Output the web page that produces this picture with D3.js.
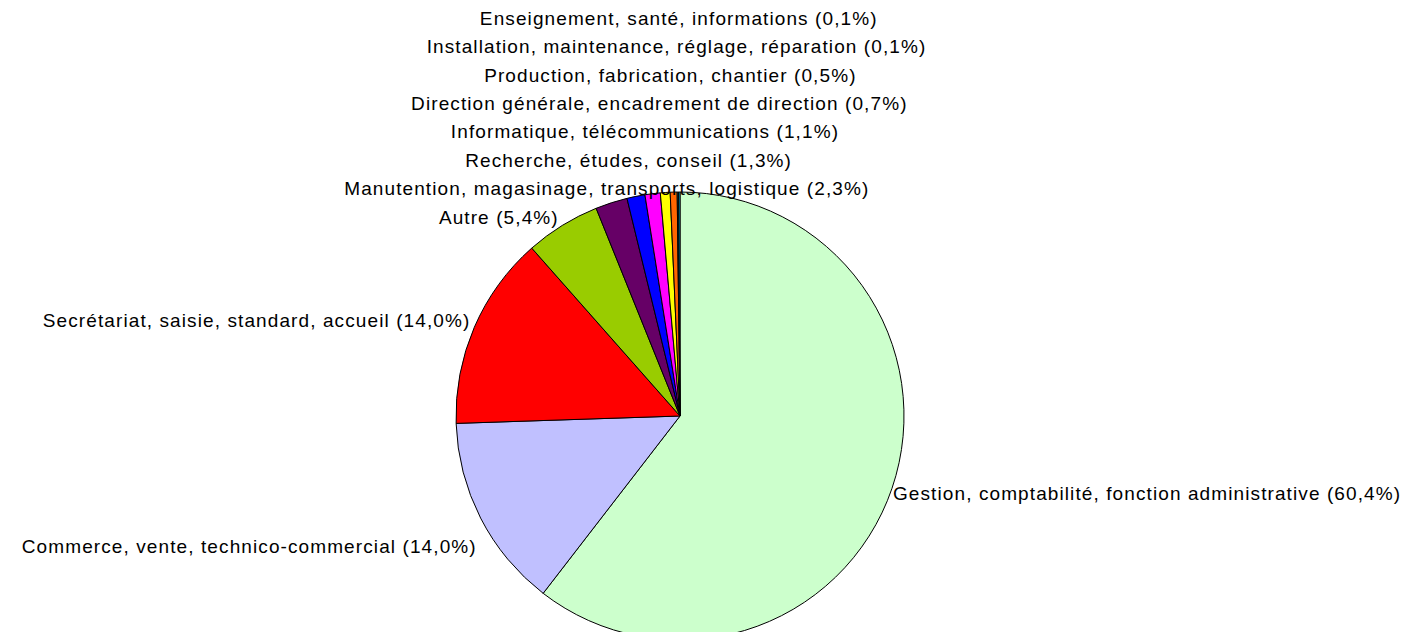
<!DOCTYPE html>
<html>
<head>
<meta charset="utf-8">
<script src="https://cdn.jsdelivr.net/npm/d3@7"></script>
<style>
  html, body { margin: 0; padding: 0; background: #fff; }
  svg { display: block; }
  text { font-family: "Liberation Sans", Arial, sans-serif; fill: #000; }
</style>
</head>
<body>
<div id="chart"></div>
<script>
// ─── DATA ───
const categories = [
  'Gestion, comptabilité, fonction administrative',
  'Commerce, vente, technico-commercial',
  'Secrétariat, saisie, standard, accueil',
  'Autre',
  'Manutention, magasinage, transports, logistique',
  'Recherche, études, conseil',
  'Informatique, télécommunications',
  'Direction générale, encadrement de direction',
  'Production, fabrication, chantier',
  'Installation, maintenance, réglage, réparation',
  'Enseignement, santé, informations'
];
const shares = [60.4, 14.0, 14.0, 5.4, 2.3, 1.3, 1.1, 0.7, 0.5, 0.1, 0.1];
const sliceColors = [
  '#CCFFCC', '#C0C0FF', '#FF0000', '#99CC00', '#660066', '#0000FF',
  '#FF00FF', '#FFFF00', '#FF6600', '#008080', '#00CCFF'
];

// ─── LAYOUT ───
const WIDTH = 1404;
const HEIGHT = 632;
const CX = 680, CY = 416, R = 224;
const FONT = 19;
const SPACING = 1.1;
const LINE = 28.4;

const fmt = v => d3.format('.1f')(v).replace('.', ',');

const svg = d3.select('#chart').append('svg')
  .attr('width', WIDTH).attr('height', HEIGHT);
const g = svg.append('g').attr('transform', `translate(${CX},${CY})`);

const rows = categories.map((c, i) => ({ name: c, value: shares[i], color: sliceColors[i], idx: i }));

const pie = d3.pie().value(d => d.value).sort(null);
const arcs = pie(rows);
const arc = d3.arc().innerRadius(0).outerRadius(R);

g.selectAll('path.slice')
  .data(arcs)
  .join('path')
  .attr('class', 'slice')
  .attr('d', arc)
  .attr('fill', d => d.data.color)
  .attr('stroke', '#000')
  .attr('stroke-width', 1)
  .attr('stroke-linejoin', 'round');

// ─── LABELS ───
// big slices sit next to the arc at their mid angle; the thin ones are
// stacked above "Autre", each centred on its slice's ray
const autreIdx = 3;
const mid = d => (d.startAngle + d.endAngle) / 2;

const bigLabelPos = a => {
  const s = Math.sin(a), c = Math.cos(a);
  const px = s * (R + 1);
  const py = -c * (R + 1);
  // lower-left labels hang below the arc point
  const drop = (s < 0 && c < 0) ? 20 : 0;
  return { x: px + (s > 0 ? 0 : -3), y: py - c * 16 + drop, anchor: s > 0 ? 'start' : 'end' };
};

const autreY = bigLabelPos(mid(arcs[autreIdx])).y + 6;

const labels = arcs.map(d => {
  const a = mid(d);
  const text = `${d.data.name} (${fmt(d.data.value)}%)`;
  if (d.data.idx < autreIdx) return { ...bigLabelPos(a), text };
  if (d.data.idx === autreIdx) return { ...bigLabelPos(a), y: autreY, text };
  const y = autreY - (d.data.idx - autreIdx) * LINE;
  return { x: -y * Math.tan(a), y, anchor: 'middle', text };
});

g.selectAll('text.label')
  .data(labels)
  .join('text')
  .attr('class', 'label')
  .attr('x', d => d.x)
  .attr('y', d => d.y)
  .attr('dy', '0.35em')
  .attr('text-anchor', d => d.anchor)
  .attr('font-size', FONT)
  .attr('letter-spacing', SPACING)
  .text(d => d.text);
</script>
</body>
</html>
